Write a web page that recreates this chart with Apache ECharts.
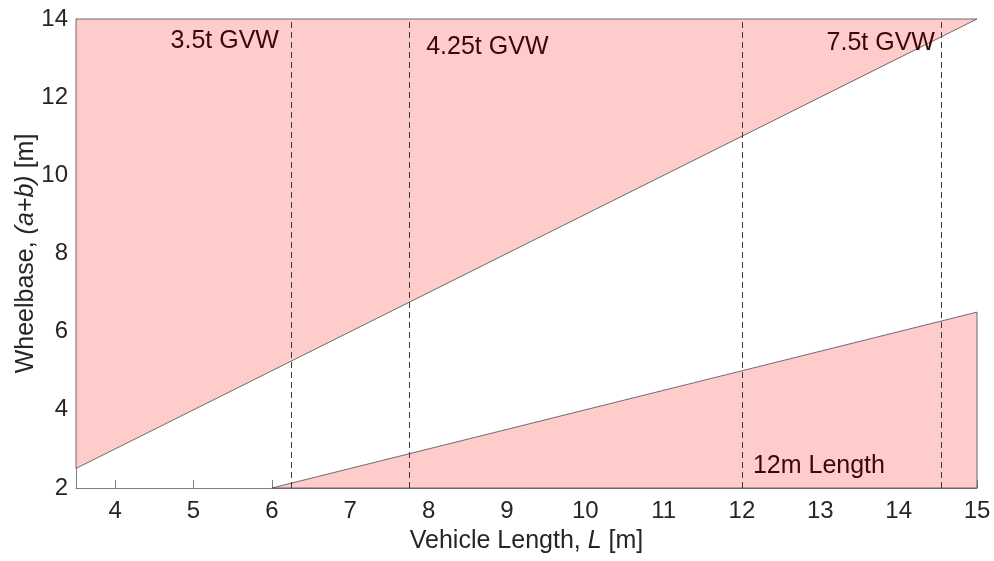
<!DOCTYPE html>
<html>
<head>
<meta charset="utf-8">
<script src="https://cdn.jsdelivr.net/npm/echarts@6/dist/echarts.min.js"></script>
<style>
  html, body { margin: 0; padding: 0; background: #ffffff; }
  #chart { width: 994px; height: 561px; }
</style>
</head>
<body>
<div id="chart"></div>
<script>
// Axis extents and tick positions
const xRange = [3.5, 15];
const yRange = [2, 14];
const xTicks = [4, 5, 6, 7, 8, 9, 10, 11, 12, 13, 14, 15];
const yTicks = [2, 4, 6, 8, 10, 12, 14];

// Excluded regions: wheelbase above L - 1 and below 0.5L - 1
const upperRegion = [[3.5, 2.5], [15, 14], [3.5, 14]];
const lowerRegion = [[6, 2], [15, 6.5], [15, 2]];
const regions = [upperRegion, lowerRegion];

// Vehicle length limits (dashed verticals)
const limitLengths = [6.25, 7.75, 12, 14.55];

// Annotation text and anchor points in data units
const noteTexts = ['3.5t GVW', '4.25t GVW', '7.5t GVW', '12m Length'];
const noteX = [6.09, 7.97, 13.08, 12.14];
const noteY = [13.44, 13.29, 13.38, 2.56];
const noteAlign = ['right', 'left', 'left', 'left'];

const FONT = '"Liberation Sans", Arial, Helvetica, sans-serif';
const chart = echarts.init(document.getElementById('chart'));

chart.setOption({
  animation: false,
  backgroundColor: '#ffffff',
  grid: {
    left: 76, right: 17, top: 19, bottom: 73,
    containLabel: false,
    outerBoundsMode: 'none'
  },
  xAxis: {
    type: 'value',
    min: xRange[0],
    max: xRange[1],
    name: '{n|Vehicle Length, }{i|L}{n| [m]}',
    nameLocation: 'middle',
    nameGap: 41,
    nameMoveOverlap: false,
    nameTextStyle: {
      rich: {
        n: { fontFamily: FONT, fontSize: 25, color: '#262626' },
        i: { fontFamily: FONT, fontSize: 25, color: '#262626', fontStyle: 'italic' }
      }
    },
    splitLine: { show: false },
    axisLine: { show: true, onZero: false, lineStyle: { color: '#808080', width: 1 } },
    axisTick: { show: true, inside: true, length: 8, customValues: xTicks, lineStyle: { color: '#808080' } },
    axisLabel: { customValues: xTicks, fontFamily: FONT, fontSize: 24, color: '#262626', margin: 11 }
  },
  yAxis: {
    type: 'value',
    min: yRange[0],
    max: yRange[1],
    name: '{n|Wheelbase, }{i|(a+b)}{n| [m]}',
    nameLocation: 'middle',
    nameGap: 37,
    nameMoveOverlap: false,
    nameTextStyle: {
      rich: {
        n: { fontFamily: FONT, fontSize: 25, color: '#262626' },
        i: { fontFamily: FONT, fontSize: 25, color: '#262626', fontStyle: 'italic' }
      }
    },
    splitLine: { show: false },
    axisLine: { show: true, onZero: false, lineStyle: { color: '#808080', width: 1 } },
    axisTick: { show: true, inside: true, length: 8, customValues: yTicks, lineStyle: { color: '#808080' } },
    axisLabel: { customValues: yTicks, fontFamily: FONT, fontSize: 24, color: '#262626', margin: 8 }
  },
  series: [
    {
      // shaded excluded regions
      type: 'custom',
      silent: true,
      z: 1,
      data: regions.map((r, i) => [i]),
      renderItem: function (params, api) {
        const pts = regions[params.dataIndex].map(p => api.coord(p));
        return {
          type: 'polygon',
          shape: { points: pts },
          style: { fill: '#ffcccc', stroke: '#4a4a4a', lineWidth: 0.8 }
        };
      }
    },
    {
      // dashed length limits
      type: 'line',
      data: [],
      z: 3,
      markLine: {
        silent: true,
        symbol: ['none', 'none'],
        label: { show: false },
        lineStyle: { type: [6, 4], color: '#3a3a3a', width: 1 },
        data: limitLengths.map(v => ({ xAxis: v }))
      }
    },
    {
      // annotations
      type: 'custom',
      silent: true,
      z: 5,
      data: noteTexts.map((t, i) => [noteX[i], noteY[i]]),
      renderItem: function (params, api) {
        const i = params.dataIndex;
        const p = api.coord([noteX[i], noteY[i]]);
        return {
          type: 'text',
          x: p[0],
          y: p[1],
          style: {
            text: noteTexts[i],
            fill: '#3a0808',
            font: '25px ' + FONT,
            align: noteAlign[i],
            verticalAlign: 'middle'
          }
        };
      }
    }
  ]
});
</script>
</body>
</html>
